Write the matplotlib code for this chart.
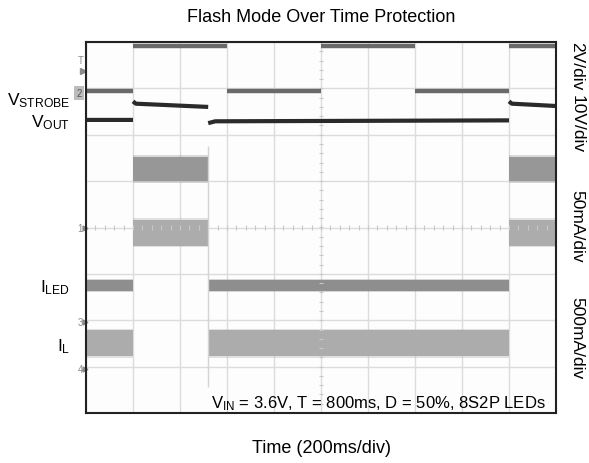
import matplotlib
matplotlib.use("Agg")
import matplotlib.pyplot as plt
import numpy as np

plt.rcParams['font.family'] = ['Liberation Sans', 'DejaVu Sans']
plt.rcParams['mathtext.fontset'] = 'custom'
plt.rcParams['mathtext.rm'] = 'Liberation Sans'
plt.rcParams['mathtext.it'] = 'Liberation Sans:italic'
plt.rcParams['mathtext.bf'] = 'Liberation Sans:bold'

# ---- data (screen divisions: x 0..10, y -4..4) ----
title = "Flash Mode Over Time Protection"
xlabel = "Time (200ms/div)"
scale_labels = ["2V/div", "10V/div", "50mA/div", "500mA/div"]
note = r"$\mathrm{V_{IN}}$ = 3.6V, T = 800ms, D = 50%, 8S2P LEDs"

strobe_edges = [0, 1, 3, 5, 7, 9, 10]
strobe_level = [2.94, 3.92, 2.94, 3.92, 2.94, 3.92]

vout_t = [0, 1.0, np.nan, 1.0, 1.06, 2.6, np.nan, 2.6, 2.75, 9.0, np.nan, 9.0, 9.06, 10]
vout_v = [2.32, 2.32, np.nan, 2.72, 2.67, 2.60, np.nan, 2.25, 2.29, 2.31, np.nan, 2.72, 2.67, 2.62]

seg_start = [0.0, 1.0, 2.6, 9.0]
seg_end = [1.0, 2.6, 9.0, 10.0]
flash_on = [False, True, False, True]

iled_off = (-1.36, -1.14)
iled_on = (1.01, 1.53)
il_off = (-2.78, -2.22)
il_on = (-0.39, 0.17)

fig = plt.figure(figsize=(5.89, 4.64), dpi=100)
ax = fig.add_axes([86/589, 1-414/464, 470/589, 371/464])
ax.set_facecolor('#fdfdfd')
ax.set_xlim(0, 10)
ax.set_ylim(-4, 4)
ax.set_xticks(range(0, 11))
ax.set_yticks(range(-4, 5))
ax.tick_params(length=0, labelbottom=False, labelleft=False)
ax.grid(True, color='#dcdcdc', lw=1.0)
ax.set_axisbelow(True)
for s in ax.spines.values():
    s.set_color('#222222')
    s.set_linewidth(1.5)

# crosshair minor ticks
mt = np.arange(0, 10.001, 0.2)
ax.vlines(mt, -0.05, 0.05, color='#c8c8c8', lw=0.8)
mty = np.arange(-4, 4.001, 0.2)
ax.hlines(mty, 4.96, 5.04, color='#c8c8c8', lw=0.8)

# current bands
for a, b, on in zip(seg_start, seg_end, flash_on):
    lo, hi = iled_on if on else iled_off
    c = '#979797' if on else '#8e8e8e'
    ax.fill_between([a, b], [lo - 0.04] * 2, [hi + 0.04] * 2, color=c, alpha=0.35, lw=0)
    ax.fill_between([a, b], [lo] * 2, [hi] * 2, color=c, lw=0)
    lo, hi = il_on if on else il_off
    c = '#acacac'
    ax.fill_between([a, b], [lo - 0.04] * 2, [hi + 0.04] * 2, color=c, alpha=0.35, lw=0)
    ax.fill_between([a, b], [lo] * 2, [hi] * 2, color=c, lw=0)

# faint transition line
ax.vlines([seg_end[1]], -3.45, 1.75, color='#d4d4d4', lw=1.0)

ax.hlines(strobe_level, strobe_edges[:-1], strobe_edges[1:], color='#6a6a6a', lw=3.2)
ax.plot(vout_t, vout_v, color='#2a2a2a', lw=3.0, solid_capstyle='butt')

# channel markers
mk = dict(color='#8a8a8a', fontsize=7, ha='right', va='center', clip_on=False)
ax.text(-0.05, 3.62, "T", **mk)
ax.plot([-0.06], [3.38], marker='>', ms=4, color='#8a8a8a', clip_on=False)
ax.text(-0.09, 2.9, "2", color='#555555', fontsize=7, ha='right', va='center',
        bbox=dict(boxstyle='square,pad=0.2', fc='#bdbdbd', ec='none'), clip_on=False)
ax.text(-0.07, 0.0, "1", **mk)
ax.text(-0.07, -2.03, "3", **mk)
ax.text(-0.07, -3.05, "4", **mk)
for yy in [0.0, -2.03, -3.05]:
    ax.plot([-0.03], [yy], marker='>', ms=3.5, color='#8a8a8a', clip_on=False)

# trace labels
lab = dict(fontsize=12.5, ha='right', va='baseline', color='black', clip_on=False)
ax.text(-0.34, 2.65, r"$\mathrm{V_{STROBE}}$", **lab)
ax.text(-0.34, 2.18, r"$\mathrm{V_{OUT}}$", **lab)
ax.text(-0.34, -1.38, r"$\mathrm{I_{LED}}$", **lab)
ax.text(-0.34, -2.65, r"$\mathrm{I_{L}}$", **lab)

ax.text(9.77, -3.88, note, fontsize=12, ha='right', va='baseline')

# right scale labels
ys = [66, 124, 226, 338]
for s, yp in zip(scale_labels, ys):
    fig.text(577/589, 1 - yp/464, s, rotation=-90, fontsize=12.5, ha='center', va='center')

fig.text(321/589, 1 - 18/464, title, fontsize=13, ha='center', va='center')
fig.text(321/589, 1 - 449/464, xlabel, fontsize=13, ha='center', va='center')

fig.savefig("out.png", dpi=100)
